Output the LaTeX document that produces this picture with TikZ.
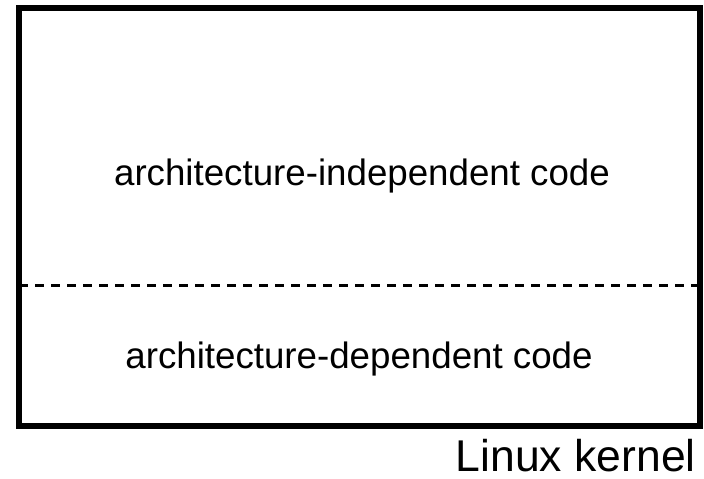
\documentclass[tikz,border=0pt]{standalone}
\usepackage{fontspec}
\setmainfont{Liberation Sans}
\begin{document}
\begin{tikzpicture}[x=1pt,y=1pt,
  frame/.style={draw=black,line width=6pt},
  divider/.style={draw=black,line width=3.5pt,dash pattern=on 9pt off 7pt},
  inner/.style={font=\fontsize{36.7}{40}\selectfont,anchor=base,inner sep=0pt},
  caption/.style={font=\fontsize{44.5}{48}\selectfont,anchor=base east,inner sep=0pt,text depth=0pt}]
\useasboundingbox (0,0) rectangle (704,479);
\coordinate (tl) at (19,471);
\coordinate (br) at (699.5,52.5);
\draw[frame] (tl) rectangle (br);
\coordinate (dl) at (19,193.3);
\coordinate (dr) at (699.5,193.3);
\draw[divider] (dl) -- (dr);
\node[inner] (ind) at (362,293) {architecture-independent code};
\node[inner] (dep) at (359,110) {architecture-dependent code};
\node[caption] (lk) at (696,7) {Linux kernel};
\end{tikzpicture}
\end{document}
